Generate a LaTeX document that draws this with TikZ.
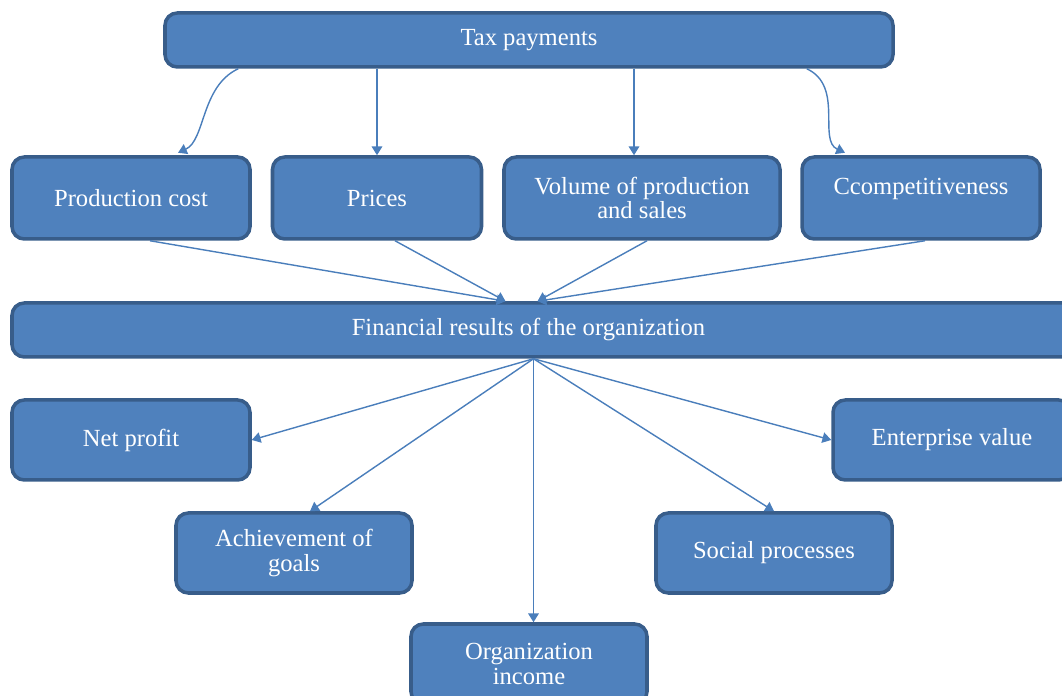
\documentclass[tikz,border=0pt]{standalone}
\usepackage{fontspec}
\setmainfont{Liberation Serif}
\usepackage{tikz}
\usetikzlibrary{arrows.meta,positioning,calc}
\definecolor{boxfill}{HTML}{4F81BD}
\definecolor{boxline}{HTML}{385D8A}
\definecolor{link}{HTML}{4A7EBB}

\begin{document}
\begin{tikzpicture}[font=\fontsize{14}{14}\selectfont,
  fb/.style={draw=boxline,line width=2pt,fill=boxfill,text=white,rounded corners=7pt,align=center,minimum height=1.6cm},
  wide/.style={fb,minimum height=1.08cm},
  arr/.style={-{Triangle[width=6pt,length=5pt]},link,line width=0.8pt}]
\useasboundingbox (0,0) rectangle (21.24,13.92);
\node[wide,minimum width=14.56cm] (tax) at (10.58,13.12) {Tax payments};
\node[fb,minimum width=4.76cm,minimum height=1.64cm] (pc) at (2.62,9.96) {Production cost};
\node[fb,minimum width=4.18cm,minimum height=1.64cm] (prices) at (7.54,9.96) {Prices};
\node[fb,minimum width=5.52cm,minimum height=1.64cm] (vol) at (12.84,9.96) {Volume of production\\and sales};
\node[fb,minimum width=4.76cm,minimum height=1.64cm,text depth=0.45cm] (comp) at (18.42,9.96) {Ccompetitiveness};
\node[wide,minimum width=21.26cm] (fin) at (10.87,7.32) {\hspace*{-0.1cm}Financial results of the organization\hspace*{0.5cm}};
\node[fb,minimum width=4.76cm] (net) at (2.62,5.12) {Net profit};
\node[fb,minimum width=4.76cm] (ent) at (19.04,5.12) {Enterprise value};
\node[fb,minimum width=4.72cm] (ach) at (5.88,2.86) {Achievement of\\goals};
\node[fb,minimum width=4.72cm] (soc) at (15.48,2.86) {Social processes};
\node[fb,minimum width=4.72cm] (inc) at (10.58,0.64) {Organization\\income};
% tax payments
\draw[arr] ([xshift=1.5cm]tax.south west) .. controls +(-0.75,-0.35) and +(0.55,0.25) .. ([xshift=0.94cm,yshift=0.05cm]pc.north);
\draw[arr] (tax.south -| prices.north) -- (prices.north);
\draw[arr] ([xshift=-0.16cm]tax.south -| vol.north) -- ([xshift=-0.16cm]vol.north);
\draw[arr] ([xshift=-1.76cm]tax.south east) .. controls +(0.75,-0.35) and +(-0.55,0.25) .. ([xshift=-1.52cm,yshift=0.05cm]comp.north);
% into financial results
\coordinate (inL) at ([xshift=-0.76cm]fin.north);
\coordinate (inR) at ([xshift=-0.12cm]fin.north);
\draw[arr] ([xshift=0.38cm]pc.south) -- (inL);
\draw[arr] ([xshift=0.36cm]prices.south) -- (inL);
\draw[arr] ([xshift=0.1cm]vol.south) -- (inR);
\draw[arr] ([xshift=0.08cm]comp.south) -- (inR);
% out of financial results
\coordinate (hub) at ([xshift=-0.2cm]fin.south);
\draw[arr] (hub) -- (net.east);
\draw[arr] (hub) -- ([xshift=0.32cm]ach.north);
\draw[arr] (hub) -- (hub |- inc.north);
\draw[arr] (hub) -- (soc.north);
\draw[arr] (hub) -- (ent.west);
\end{tikzpicture}
\end{document}
